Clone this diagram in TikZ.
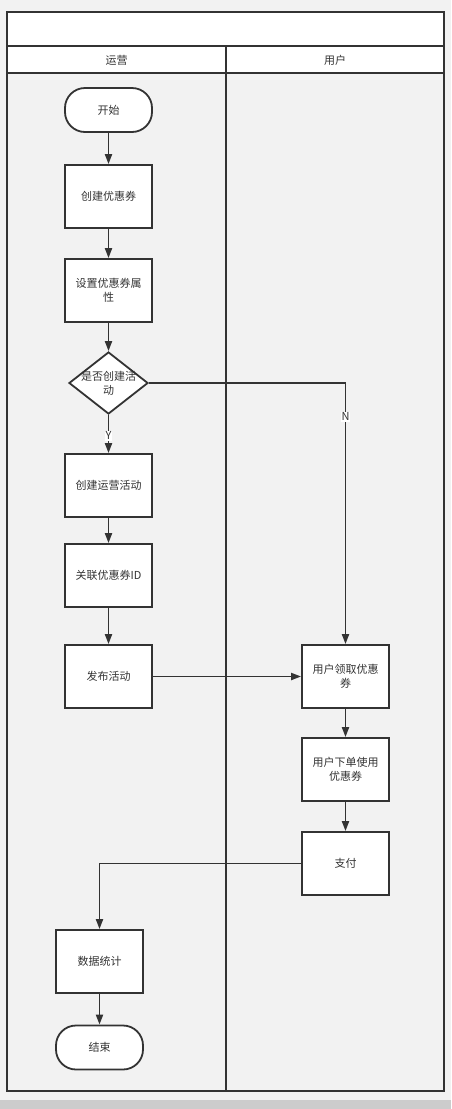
\documentclass[tikz,border=0pt]{standalone}
\usepackage{fontspec}
\setmainfont{Noto Sans CJK SC}
\usetikzlibrary{arrows.meta,shapes.geometric}
\definecolor{bgc}{HTML}{F2F2F2}
\definecolor{barc}{HTML}{CCCCCC}
\definecolor{ln}{HTML}{333333}
\tikzset{
  lane/.style={draw=ln,line width=2pt},
  txt/.style={align=center,text=ln,font=\fontsize{11}{14}\selectfont},
  proc/.style={txt,draw=ln,fill=white,line width=1.8pt,minimum width=87pt,minimum height=63pt,inner sep=0pt},
  term/.style={txt,draw=ln,fill=white,line width=1.8pt,rounded corners=20pt,minimum width=87pt,minimum height=44pt,inner sep=0pt},
  dec/.style={draw=ln,fill=white,line width=1.8pt,diamond,minimum width=79pt,minimum height=62pt,inner sep=0pt},
  conn/.style={draw=ln,line width=1.9pt,-{Triangle[length=10pt,width=7pt]}},
  lbl/.style={fill=white,inner sep=1pt,text=ln,font=\fontsize{11}{12}\selectfont},
  hdr/.style={text=ln,font=\fontsize{11}{12}\selectfont}
}
\begin{document}
\begin{tikzpicture}[x=1pt,y=-1pt]
\useasboundingbox (0,0) rectangle (451,1109);
\fill[bgc] (0,0) rectangle (451,1109);
\fill[barc] (0,1100) rectangle (451,1109);
% pool
\filldraw[lane,fill=white] (7,12) rectangle (444,46);
\filldraw[lane,fill=white] (7,46) rectangle (226,73);
\filldraw[lane,fill=white] (226,46) rectangle (444,73);
\draw[lane] (7,73) rectangle (226,1091);
\draw[lane] (226,73) rectangle (444,1091);
\node[hdr] (h1) at (116.5,60) {运营};
\node[hdr] (h2) at (335,60) {用户};
% nodes
\node[term] (start) at (108.5,110) {开始};
\node[proc] (create) at (108.5,196.5) {创建优惠券};
\node[proc] (attr) at (108.5,290.5) {设置优惠券属\\性};
\node[dec] (dia) at (108.5,383) {};
\node[txt] (diatext) at (dia.center) {是否创建活\\动};
\node[proc] (act) at (108.5,485.5) {创建运营活动};
\node[proc] (link) at (108.5,575.5) {关联优惠券ID};
\node[proc] (pub) at (108.5,676.5) {发布活动};
\node[proc] (recv) at (345.5,676.5) {用户领取优惠\\券};
\node[proc] (order) at (345.5,769.5) {用户下单使用\\优惠券};
\node[proc] (pay) at (345.5,863.5) {支付};
\node[proc] (stat) at (99.5,961.5) {数据统计};
\node[term] (end) at (99.5,1047.5) {结束};
% connectors
\draw[conn] (start) -- (create);
\draw[conn] (create) -- (attr);
\draw[conn] (attr) -- (dia);
\draw[conn] (dia) -- node[lbl,pos=0.55] {Y} (act);
\draw[conn] (dia.east) -| node[lbl,pos=0.565] {N} (recv.north);
\draw[conn] (act) -- (link);
\draw[conn] (link) -- (pub);
\draw[conn] (pub) -- (recv);
\draw[conn] (recv) -- (order);
\draw[conn] (order) -- (pay);
\draw[conn] (pay.west) -| (stat.north);
\draw[conn] (stat) -- (end);
\end{tikzpicture}
\end{document}
